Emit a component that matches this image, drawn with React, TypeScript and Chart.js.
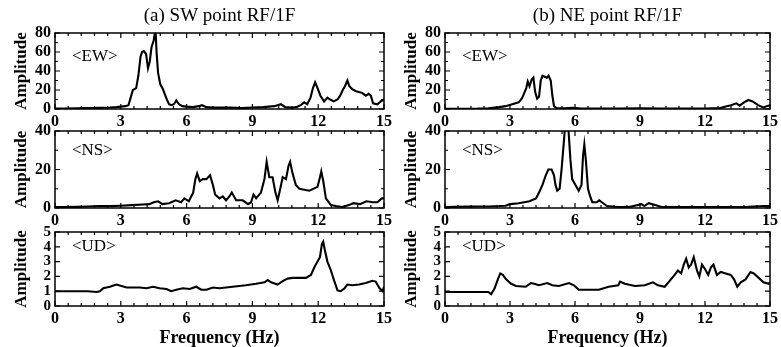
import React, { useEffect, useRef } from "react";
import { Chart, registerables } from "chart.js";

Chart.register(...registerables);

const FONT = "'Liberation Serif', 'Times New Roman', Times, serif";

// ---------------- Data ----------------
const X_TICKS_MAX = 15;

// (a) SW point RF/1F
const SW_EW_FREQ = [0, 0.5, 1, 1.5, 2, 2.5, 2.8, 3.0, 3.2, 3.35, 3.45, 3.55, 3.7, 3.8, 3.9, 3.97, 4.05, 4.15, 4.24, 4.32, 4.4, 4.5, 4.58, 4.63, 4.7, 4.8, 4.92, 5.0, 5.1, 5.2, 5.3, 5.42, 5.53, 5.65, 5.8, 6.0, 6.3, 6.55, 6.7, 6.9, 7.2, 7.6, 8.0, 8.5, 9.0, 9.5, 10.0, 10.3, 10.5, 10.8, 11.0, 11.2, 11.36, 11.5, 11.65, 11.76, 11.86, 11.97, 12.1, 12.27, 12.42, 12.55, 12.7, 12.88, 13.0, 13.12, 13.22, 13.33, 13.42, 13.55, 13.7, 13.85, 14.0, 14.17, 14.3, 14.4, 14.5, 14.7, 14.85, 15.0];
const SW_EW_AMP = [0.5, 0.5, 0.8, 1, 1.2, 1.5, 2, 2.5, 3, 4, 12, 20, 22, 35, 55, 60, 61, 58, 43, 50, 65, 72, 85, 60, 38, 26, 21, 16, 10, 5, 4, 5, 9, 5, 3, 2.5, 2, 3, 4, 2, 1.5, 1.5, 1.5, 1, 1.5, 2, 3, 5, 2, 1.5, 2, 4, 7, 5, 12, 22, 28, 22, 14, 8, 12, 10, 8, 10, 14, 20, 24, 30, 24, 21, 19, 18, 17, 14, 16, 14, 6, 5, 8, 10];

const SW_NS_FREQ = [0, 0.5, 1, 1.5, 2, 2.5, 3, 3.5, 4, 4.3, 4.5, 4.7, 4.9, 5.2, 5.5, 5.75, 5.9, 6.1, 6.3, 6.4, 6.48, 6.6, 6.74, 6.9, 7.07, 7.2, 7.3, 7.5, 7.65, 7.8, 7.95, 8.06, 8.26, 8.56, 8.8, 8.94, 9.05, 9.17, 9.39, 9.55, 9.65, 9.77, 9.92, 10.05, 10.15, 10.27, 10.38, 10.53, 10.65, 10.72, 10.83, 10.98, 11.14, 11.6, 11.97, 12.08, 12.14, 12.23, 12.35, 12.58, 12.8, 13.1, 13.4, 13.6, 13.9, 14.2, 14.5, 14.7, 14.9, 15];
const SW_NS_AMP = [0.5, 0.5, 0.6, 0.8, 1, 1, 1.2, 1.5, 1.8, 2, 3, 3.5, 2, 2.5, 4, 3, 5, 3.5, 8, 15, 18, 14, 15, 15, 17, 12, 7, 5, 6, 4, 6, 8, 4, 4, 2, 3, 7, 5, 8, 15, 24, 16, 16, 8, 4, 10, 16, 15, 22, 24, 18, 12, 10, 9, 11, 16, 19, 14, 5, 1.5, 1, 0.5, 1.5, 2.5, 2, 3.5, 3, 3, 5, 5];

const SW_UD_FREQ = [0, 0.5, 1, 1.5, 1.9, 2.05, 2.2, 2.5, 2.8, 3.03, 3.26, 3.6, 3.86, 4.17, 4.47, 4.77, 5.08, 5.3, 5.53, 5.83, 6.14, 6.44, 6.67, 6.9, 7.2, 7.5, 8.1, 8.7, 9.17, 9.55, 9.7, 9.85, 10.15, 10.4, 10.6, 10.83, 11.14, 11.44, 11.67, 11.82, 11.97, 12.08, 12.17, 12.23, 12.3, 12.42, 12.58, 12.73, 12.88, 13.03, 13.2, 13.33, 13.56, 13.86, 14.17, 14.47, 14.62, 14.8, 14.94, 15];
const SW_UD_AMP = [1, 1, 1, 1, 0.95, 1, 1.2, 1.3, 1.45, 1.35, 1.25, 1.25, 1.25, 1.2, 1.3, 1.2, 1.15, 1, 1.1, 1.2, 1.15, 1.3, 1.1, 1.1, 1.25, 1.2, 1.3, 1.4, 1.5, 1.6, 1.75, 1.6, 1.45, 1.7, 1.85, 1.9, 1.9, 1.9, 2.1, 2.6, 3.0, 3.3, 4.2, 4.35, 3.8, 3.0, 2.4, 1.7, 1.05, 1.0, 1.2, 1.45, 1.4, 1.45, 1.55, 1.7, 1.65, 1.2, 1.0, 1.3];

// (b) NE point RF/1F
const NE_EW_FREQ = [0, 0.5, 1, 1.5, 2, 2.5, 2.8, 3.1, 3.4, 3.55, 3.66, 3.75, 3.82, 3.9, 4.0, 4.08, 4.16, 4.25, 4.34, 4.42, 4.5, 4.6, 4.7, 4.78, 4.88, 4.95, 5.03, 5.15, 5.5, 5.9, 6.3, 7, 8, 9, 10, 11, 12, 12.7, 13.0, 13.2, 13.45, 13.6, 13.8, 14.0, 14.2, 14.45, 14.7, 14.85, 15];
const NE_EW_AMP = [0.3, 0.3, 0.3, 0.4, 0.8, 2, 3, 5, 7, 11, 17, 22, 29, 24, 31, 33, 18, 11, 13, 30, 35, 34, 33, 35, 30, 15, 3, 1, 0.8, 1.2, 0.6, 0.5, 0.5, 0.8, 0.5, 0.5, 0.6, 1, 3, 4, 6, 3.5, 7, 9.5, 8, 4, 1.5, 3, 4];

const NE_NS_FREQ = [0, 0.5, 1, 1.5, 2, 2.5, 2.8, 3.0, 3.4, 3.9, 4.2, 4.34, 4.5, 4.65, 4.77, 4.92, 5.03, 5.1, 5.18, 5.29, 5.38, 5.49, 5.56, 5.69, 5.79, 5.87, 6.02, 6.17, 6.3, 6.37, 6.43, 6.5, 6.6, 6.7, 6.8, 7.0, 7.12, 7.24, 7.47, 8, 8.5, 9.07, 9.2, 9.4, 9.7, 10, 11, 12, 13, 14, 14.7, 15];
const NE_NS_AMP = [0.5, 0.6, 0.7, 0.8, 0.8, 1, 1.2, 2, 2.5, 3.5, 5, 8, 12, 17, 20, 20, 17, 12, 9, 10, 20, 35, 45, 42, 25, 15, 12, 9, 12, 27, 33, 25, 10, 6, 3, 3, 4, 3, 1, 0.5, 0.5, 2, 1, 2.5, 1.5, 0.5, 0.5, 0.5, 0.5, 0.6, 1, 1];

const NE_UD_FREQ = [0, 0.5, 1, 1.5, 2, 2.13, 2.29, 2.44, 2.55, 2.67, 2.82, 3.05, 3.28, 3.73, 3.96, 4.12, 4.34, 4.72, 4.95, 5.26, 5.72, 5.95, 6.17, 6.63, 7.1, 7.55, 8.0, 8.08, 8.3, 8.77, 9.22, 9.6, 9.83, 10.14, 10.37, 10.6, 10.75, 10.9, 11.02, 11.13, 11.25, 11.36, 11.48, 11.63, 11.74, 11.86, 12.0, 12.15, 12.27, 12.39, 12.55, 12.73, 12.96, 13.19, 13.34, 13.49, 13.65, 13.87, 14.1, 14.25, 14.48, 14.7, 14.94, 15];
const NE_UD_AMP = [0.95, 0.95, 0.95, 0.95, 0.95, 0.8, 1.2, 1.8, 2.2, 2.1, 1.8, 1.5, 1.35, 1.3, 1.55, 1.5, 1.4, 1.55, 1.4, 1.35, 1.55, 1.4, 1.1, 1.1, 1.1, 1.3, 1.4, 1.65, 1.5, 1.35, 1.4, 1.6, 1.4, 1.3, 1.7, 2.1, 2.4, 2.2, 2.8, 3.2, 2.6, 2.8, 3.3, 2.4, 2.0, 2.8, 2.5, 2.1, 2.6, 2.8, 2.1, 2.3, 2.2, 2.1, 1.8, 1.3, 1.6, 1.8, 2.3, 2.2, 1.9, 1.6, 1.5, 1.6];

const TITLES = ["(a) SW point RF/1F", "(b) NE point RF/1F"];
const COMPONENT_LABELS = ["<EW>", "<NS>", "<UD>"];
const Y_MAX = [80, 40, 5];
const Y_STEP = [20, 20, 1];
const Y_MINOR = [10, 10, 1];
const X_STEP = 3;
const X_MINOR = 0.6;
const Y_TITLE = "Amplitude";
const X_TITLE = "Frequency (Hz)";

const SERIES = [
  [ { freq: SW_EW_FREQ, amp: SW_EW_AMP }, { freq: SW_NS_FREQ, amp: SW_NS_AMP }, { freq: SW_UD_FREQ, amp: SW_UD_AMP } ],
  [ { freq: NE_EW_FREQ, amp: NE_EW_AMP }, { freq: NE_NS_FREQ, amp: NE_NS_AMP }, { freq: NE_UD_FREQ, amp: NE_UD_AMP } ],
];

// ---------------- Layout ----------------
const COLS = [
  { left: 0, width: 395, padRight: 10 },
  { left: 390, width: 391, padRight: 8 },
];
const ROWS = [
  { top: 0, height: 128, padTop: 0, xH: 19, labelDy: 24 },
  { top: 113, height: 113, padTop: 18, xH: 18, labelDy: 20 },
  { top: 214, height: 133, padTop: 18, xH: 41, labelDy: 15 },
];

const frameTicks = {
  id: "frameTicks",
  afterDatasetsDraw(chart: any, _args: any, opts: any) {
    const { ctx, chartArea } = chart;
    const { left, right, top, bottom } = chartArea;
    const xs = chart.scales.x;
    const ys = chart.scales.y;
    ctx.save();
    ctx.strokeStyle = "#000";
    ctx.lineWidth = 1.5;
    ctx.strokeRect(left, top, right - left, bottom - top);
    ctx.lineWidth = 1.2;
    ctx.beginPath();
    const nX = Math.round(X_TICKS_MAX / X_MINOR);
    const perMajorX = Math.round(X_STEP / X_MINOR);
    for (let i = 0; i <= nX; i++) {
      const px = xs.getPixelForValue(i * X_MINOR);
      const len = i % perMajorX === 0 ? 5 : 3;
      ctx.moveTo(px, bottom);
      ctx.lineTo(px, bottom - len);
      ctx.moveTo(px, top);
      ctx.lineTo(px, top + len);
    }
    const nY = Math.round(opts.yMax / opts.yMinor);
    const perMajorY = Math.round(opts.yStep / opts.yMinor);
    for (let i = 0; i <= nY; i++) {
      const py = ys.getPixelForValue(i * opts.yMinor);
      const len = i % perMajorY === 0 ? 5 : 3;
      ctx.moveTo(left, py);
      ctx.lineTo(left + len, py);
      ctx.moveTo(right, py);
      ctx.lineTo(right - len, py);
    }
    ctx.stroke();
    ctx.fillStyle = "#000";
    ctx.font = `17px ${FONT}`;
    ctx.textBaseline = "middle";
    ctx.textAlign = "left";
    ctx.fillText(opts.label, left + 17, top + opts.labelDy);
    ctx.restore();
  },
};

function Panel({ col, row }: { col: number; row: number }) {
  const ref = useRef<HTMLCanvasElement | null>(null);
  const c = COLS[col];
  const r = ROWS[row];
  useEffect(() => {
    const s = SERIES[col][row];
    const chart = new Chart(ref.current as HTMLCanvasElement, {
      type: "line",
      data: {
        datasets: [
          {
            data: s.freq.map((f, i) => ({ x: f, y: s.amp[i] })),
            borderColor: "#000",
            borderWidth: 2.1,
            pointRadius: 0,
            tension: 0,
            fill: false,
          },
        ],
      },
      options: {
        responsive: false,
        animation: false,
        events: [],
        layout: { padding: { top: r.padTop, right: c.padRight, left: 0, bottom: 0 } },
        plugins: {
          legend: { display: false },
          tooltip: { enabled: false },
          title: {
            display: row === 0,
            text: TITLES[col],
            fullSize: false,
            color: "#000",
            font: { family: FONT, size: 19, weight: "normal", lineHeight: 1.2 },
            padding: { top: 5, bottom: 5.2 },
          },
          frameTicks: {
            yMax: Y_MAX[row],
            yStep: Y_STEP[row],
            yMinor: Y_MINOR[row],
            label: COMPONENT_LABELS[row],
            labelDy: r.labelDy,
          },
        } as any,
        scales: {
          x: {
            type: "linear",
            min: 0,
            max: X_TICKS_MAX,
            ticks: {
              stepSize: X_STEP,
              padding: 3,
              color: "#000",
              maxRotation: 0,
              autoSkip: false,
              font: { family: FONT, size: 16, weight: "bold" },
            },
            grid: { display: false, drawTicks: false },
            border: { display: false },
            title: {
              display: row === 2,
              text: X_TITLE,
              color: "#000",
              font: { family: FONT, size: 18, weight: "bold", lineHeight: 1 },
              padding: { top: 0, bottom: 0 },
            },
            afterFit: (scale: any) => {
              scale.height = r.xH;
            },
          },
          y: {
            type: "linear",
            min: 0,
            max: Y_MAX[row],
            ticks: {
              stepSize: Y_STEP[row],
              padding: 4,
              color: "#000",
              autoSkip: false,
              font: { family: FONT, size: row === 2 ? 15 : 16, weight: "bold" },
            },
            grid: { display: false, drawTicks: false },
            border: { display: false },
            title: {
              display: true,
              text: Y_TITLE,
              color: "#000",
              font: { family: FONT, size: 17, weight: "bold", lineHeight: 1 },
              padding: { top: 13, bottom: 0 },
            },
            afterFit: (scale: any) => {
              scale.width = 55;
            },
          },
        },
      } as any,
      plugins: [frameTicks],
    });
    return () => chart.destroy();
  }, [col, row]);
  return (
    <canvas
      ref={ref}
      width={c.width}
      height={r.height}
      style={{ position: "absolute", left: c.left, top: r.top, width: c.width, height: r.height }}
    />
  );
}

export default function App() {
  const cells: Array<[number, number]> = [];
  for (let col = 0; col < 2; col++) for (let row = 0; row < 3; row++) cells.push([col, row]);
  return (
    <div style={{ position: "absolute", left: 0, top: 0, width: 781, height: 347, background: "#fff", overflow: "hidden" }}>
      {cells.map(([col, row]) => (
        <Panel key={`${col}-${row}`} col={col} row={row} />
      ))}
    </div>
  );
}
